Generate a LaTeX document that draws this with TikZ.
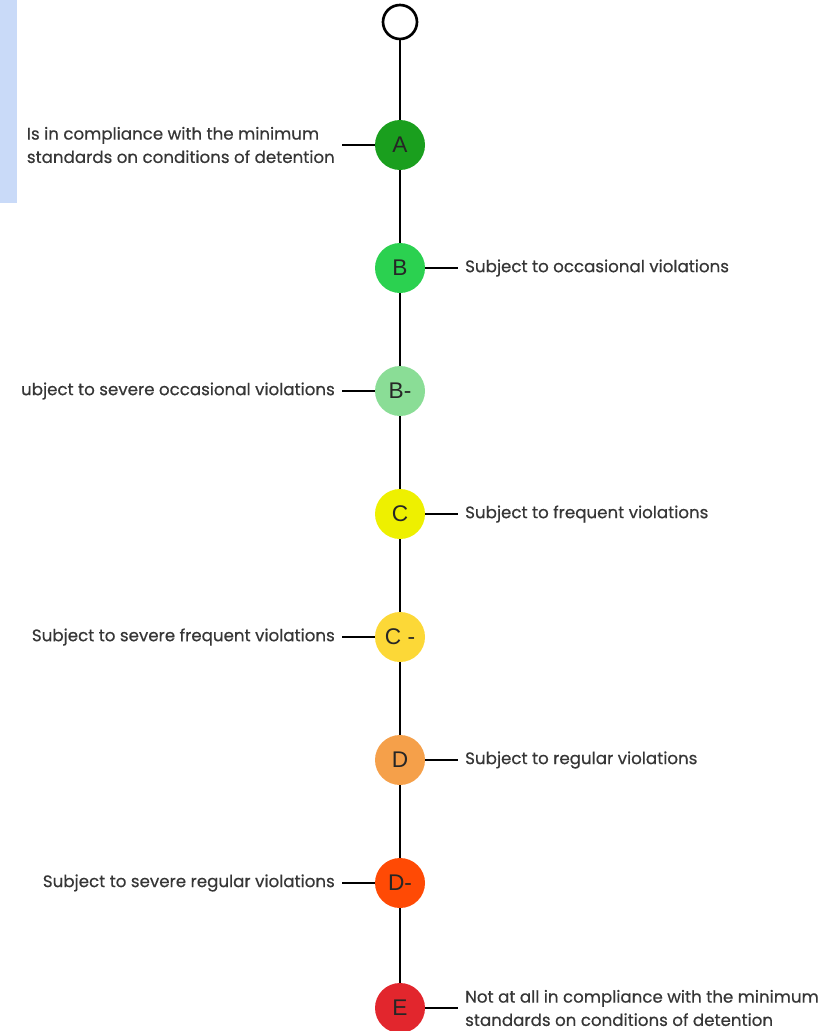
\documentclass[tikz,border=0pt]{standalone}
\usepackage{fontspec}
\setmainfont{Poppins}[FakeBold=0.5]
\newfontfamily\gradefont{Liberation Sans}
\definecolor{panel}{HTML}{C9DAF8}
\definecolor{txt}  {HTML}{363636}
\definecolor{gA}   {HTML}{1A9F1E}
\definecolor{gB}   {HTML}{2BD150}
\definecolor{gBm}  {HTML}{8ADD96}
\definecolor{gC}   {HTML}{EEF000}
\definecolor{gCm}  {HTML}{FCD837}
\definecolor{gD}   {HTML}{F5A04A}
\definecolor{gDm}  {HTML}{FF4A05}
\definecolor{gE}   {HTML}{E2262D}
\tikzset{
  grade/.style={circle, minimum size=37.5pt, inner sep=0pt,
                font=\gradefont\fontsize{17}{17}\selectfont, text=black!85},
  start/.style={circle, draw=black, line width=2pt, minimum size=25.5pt, inner sep=0pt},
  lbl/.style  ={inner xsep=5.2pt, inner ysep=0pt, align=left, text=txt,
                font=\fontsize{12.5}{17.5}\selectfont},
  spine/.style={line width=2.2pt},
  tick/.style ={line width=1.5pt}
}

\begin{document}
\begin{tikzpicture}[x=0.75pt,y=-0.75pt]
  \useasboundingbox (0,0) rectangle (821,1031);
  \fill[panel] (0,0) rectangle (17,203);

  \node[start]          (top) at (400,  22) {};
  \node[grade,fill=gA ] (A)   at (400, 145) {A};
  \node[grade,fill=gB ] (B)   at (400, 268) {B};
  \node[grade,fill=gBm] (Bm)  at (400, 391) {B-};
  \node[grade,fill=gC ] (C)   at (400, 514) {C};
  \node[grade,fill=gCm] (Cm)  at (400, 637) {C -};
  \node[grade,fill=gD ] (D)   at (400, 760) {D};
  \node[grade,fill=gDm] (Dm)  at (400, 883) {D-};
  \node[grade,fill=gE ] (E)   at (400,1008) {E};

  \draw[spine] (top) -- (A);
  \draw[spine] (A)   -- (B);
  \draw[spine] (B)   -- (Bm);
  \draw[spine] (Bm)  -- (C);
  \draw[spine] (C)   -- (Cm);
  \draw[spine] (Cm)  -- (D);
  \draw[spine] (D)   -- (Dm);
  \draw[spine] (Dm)  -- (E);

  \node[lbl,anchor=east] (tA)  at (342, 145) {Is in compliance with the minimum\\standards on conditions of detention};
  \node[lbl,anchor=west] (tB)  at (458, 268) {Subject to occasional violations};
  \node[lbl,anchor=east] (tBm) at (342, 391) {ubject to severe occasional violations};
  \node[lbl,anchor=west] (tC)  at (458, 514) {Subject to frequent violations};
  \node[lbl,anchor=east] (tCm) at (342, 637) {Subject to severe frequent violations};
  \node[lbl,anchor=west] (tD)  at (458, 760) {Subject to regular violations};
  \node[lbl,anchor=east] (tDm) at (342, 883) {Subject to severe regular violations};
  \node[lbl,anchor=west] (tE)  at (458,1008) {Not at all in compliance with the minimum\\standards on conditions of detention};

  \draw[tick] (A)  -- (tA);
  \draw[tick] (B)  -- (tB);
  \draw[tick] (Bm) -- (tBm);
  \draw[tick] (C)  -- (tC);
  \draw[tick] (Cm) -- (tCm);
  \draw[tick] (D)  -- (tD);
  \draw[tick] (Dm) -- (tDm);
  \draw[tick] (E)  -- (tE.west |- E);
\end{tikzpicture}
\end{document}
